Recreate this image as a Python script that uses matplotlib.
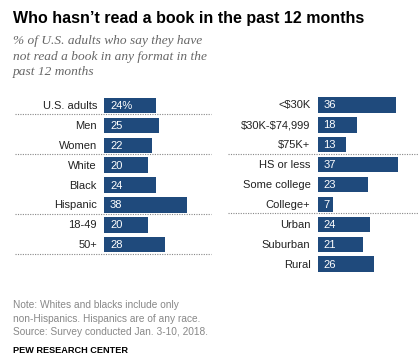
import matplotlib
matplotlib.use('Agg')
import matplotlib.pyplot as plt
from matplotlib.transforms import blended_transform_factory

plt.rcParams['text.parse_math'] = False

# 数据
left_labels = ['U.S. adults', 'Men', 'Women', 'White', 'Black', 'Hispanic', '18-49', '50+']
left_values = [24, 25, 22, 20, 24, 38, 20, 28]
left_breaks = [0, 2, 5, 7]   # 分隔线位于这些行之后

right_labels = ['<$30K', '$30K-$74,999', '$75K+', 'HS or less', 'Some college',
                'College+', 'Urban', 'Suburban', 'Rural']
right_values = [36, 18, 13, 37, 23, 7, 24, 21, 26]
right_breaks = [2, 5]

title = 'Who hasn\u2019t read a book in the past 12 months'
subtitle = ['% of U.S. adults who say they have',
            'not read a book in any format in the',
            'past 12 months']
notes = ['Note: Whites and blacks include only',
         'non-Hispanics. Hispanics are of any race.',
         'Source: Survey conducted Jan. 3-10, 2018.']
source = 'PEW RESEARCH CENTER'

W, H = 420, 364
BAR = '#1f4a7c'
SANS = ['Liberation Sans', 'DejaVu Sans']
SERIF = ['Liberation Serif', 'DejaVu Serif']

fig = plt.figure(figsize=(W / 100, H / 100), dpi=100)
fig.patch.set_facecolor('white')

PX_UNIT = 2.18   # 每个百分点的像素
PITCH = 19.9     # 行距（像素）


def panel(x0, y0, labels, values, breaks, line_x, first_pct):
    n = len(labels)
    xmax = 50
    ax = fig.add_axes([x0 / W, 1 - (y0 + n * PITCH) / H, xmax * PX_UNIT / W, n * PITCH / H])
    ax.barh(range(n), values, height=0.77, color=BAR)
    ax.set_xlim(0, xmax)
    ax.set_ylim(n - 0.5, -0.5)
    ax.axis('off')
    for i, (lab, v) in enumerate(zip(labels, values)):
        ax.annotate(lab, (0, i), xytext=(-7, -0.5), textcoords='offset pixels',
                    ha='right', va='center', fontsize=8, family=SANS, color='#222222')
        txt = f'{v}%' if (i == 0 and first_pct) else str(v)
        ax.annotate(txt, (0, i), xytext=(6, -0.5), textcoords='offset pixels',
                    ha='left', va='center', fontsize=8, family=SANS, color='white')
    tr = blended_transform_factory(fig.transFigure, ax.transData)
    for b in breaks:
        ax.plot([line_x[0] / W, line_x[1] / W], [b + 0.45, b + 0.45], transform=tr,
                color='#888888', lw=0.8, ls=(0, (1, 1.2)), clip_on=False)
    return ax


panel(104, 95.5, left_labels, left_values, left_breaks, (15, 211), True)
panel(317.5, 95.0, right_labels, right_values, right_breaks, (228, 418), False)

fig.text(13 / W, 1 - 23.5 / H, title, fontsize=11.5, fontweight='bold',
         family=SANS, va='baseline', ha='left', color='black')
for k, line in enumerate(subtitle):
    fig.text(13 / W, 1 - (44.3 + k * 15.3) / H, line, fontsize=9.6, style='italic',
             family=SERIF, va='baseline', ha='left', color='#666666')
for k, line in enumerate(notes):
    fig.text(13 / W, 1 - (308.3 + k * 13.4) / H, line, fontsize=7.3,
             family=SANS, va='baseline', ha='left', color='#888888')
fig.text(13 / W, 1 - 353.3 / H, source, fontsize=6.6, fontweight='bold',
         family=SANS, va='baseline', ha='left', color='black')

fig.savefig('out.png', dpi=100, facecolor='white')
